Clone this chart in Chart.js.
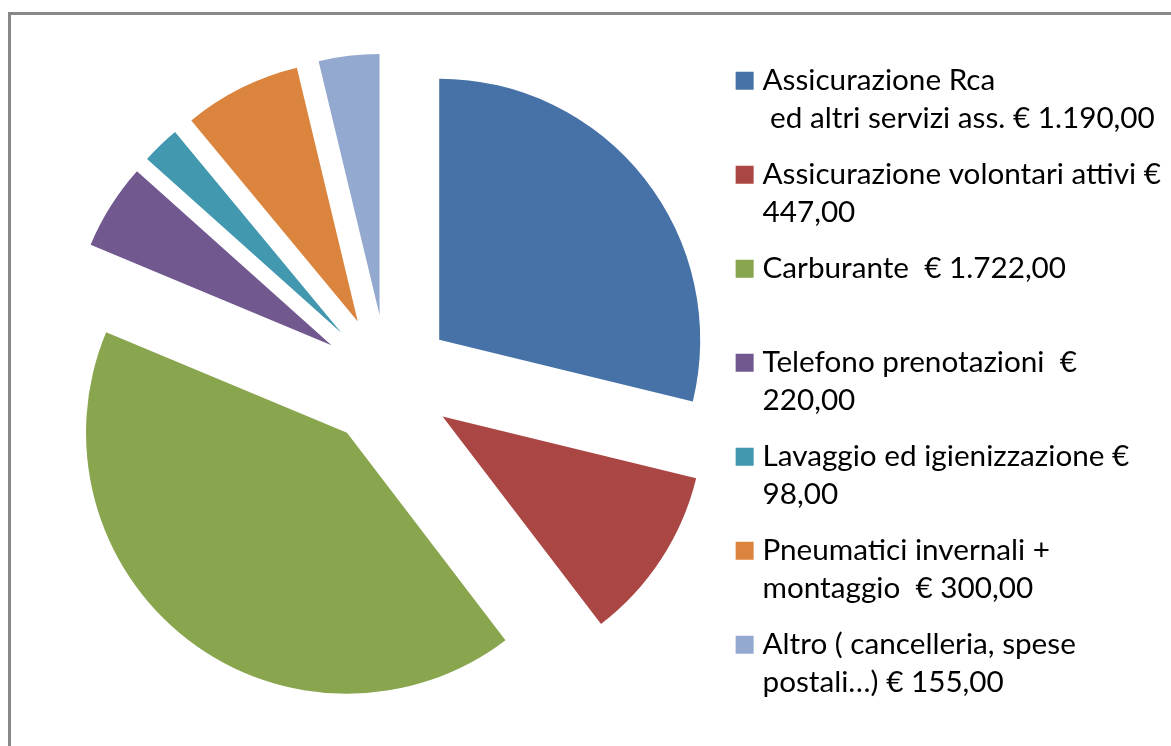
<!DOCTYPE html>
<html>
<head>
<meta charset="utf-8">
<script src="https://cdn.jsdelivr.net/npm/chart.js@4/dist/chart.umd.min.js"></script>
<style>
  html, body { margin: 0; padding: 0; background: #fff; overflow: hidden; }
  #wrap { position: relative; width: 1171px; height: 746px; }
  #frame { position: absolute; left: 8px; top: 12px; width: 1300px; height: 900px;
           border-left: 3px solid #888; border-top: 3px solid #888; pointer-events: none; }
  canvas { position: absolute; left: 0; top: 0; }
</style>
</head>
<body>
<div id="wrap">
  <canvas id="pie" width="1171" height="746"></canvas>
  <div id="frame"></div>
</div>
<script>
  'use strict';

  const labels = [
    ['Assicurazione Rca', ' ed altri servizi ass. € 1.190,00'],
    ['Assicurazione volontari attivi €', '447,00'],
    ['Carburante  € 1.722,00', ''],
    ['Telefono prenotazioni  €', '220,00'],
    ['Lavaggio ed igienizzazione €', '98,00'],
    ['Pneumatici invernali +', 'montaggio  € 300,00'],
    ['Altro ( cancelleria, spese', 'postali…) € 155,00']
  ];
  const values = [1190, 447, 1722, 220, 98, 300, 155];
  const colors = ['#4672A8', '#AA4643', '#89A54E', '#71588F', '#4198AF', '#DB843D', '#93A9CF'];

  const EXPLODE = 66;   // every slice pulled out from the centre by the same distance

  // move each arc's centre outward along its mid angle
  const explodePlugin = {
    id: 'explodePlugin',
    beforeDatasetsDraw(chart) {
      const { chartArea } = chart;
      const cx = (chartArea.left + chartArea.right) / 2;
      const cy = (chartArea.top + chartArea.bottom) / 2;
      chart.getDatasetMeta(0).data.forEach(arc => {
        const mid = (arc.startAngle + arc.endAngle) / 2;
        arc.x = cx + Math.cos(mid) * EXPLODE;
        arc.y = cy + Math.sin(mid) * EXPLODE;
      });
    }
  };

  const ctx = document.getElementById('pie').getContext('2d');
  new Chart(ctx, {
    type: 'pie',
    data: {
      labels,
      datasets: [{
        data: values,
        backgroundColor: colors,
        borderWidth: 0,
        radius: 261
      }]
    },
    options: {
      responsive: false,
      animation: false,
      layout: { padding: { left: 51, right: 0, top: 37, bottom: 22 } },
      plugins: {
        tooltip: { enabled: false },
        legend: {
          position: 'right',
          align: 'end',
          labels: {
            color: '#000000',
            font: { family: 'Lato', size: 29.7, lineHeight: 1.28 },
            usePointStyle: true,
            pointStyle: 'rect',
            boxWidth: 6,
            boxHeight: 18,
            padding: 18
          }
        }
      }
    },
    plugins: [explodePlugin]
  });
</script>
</body>
</html>
